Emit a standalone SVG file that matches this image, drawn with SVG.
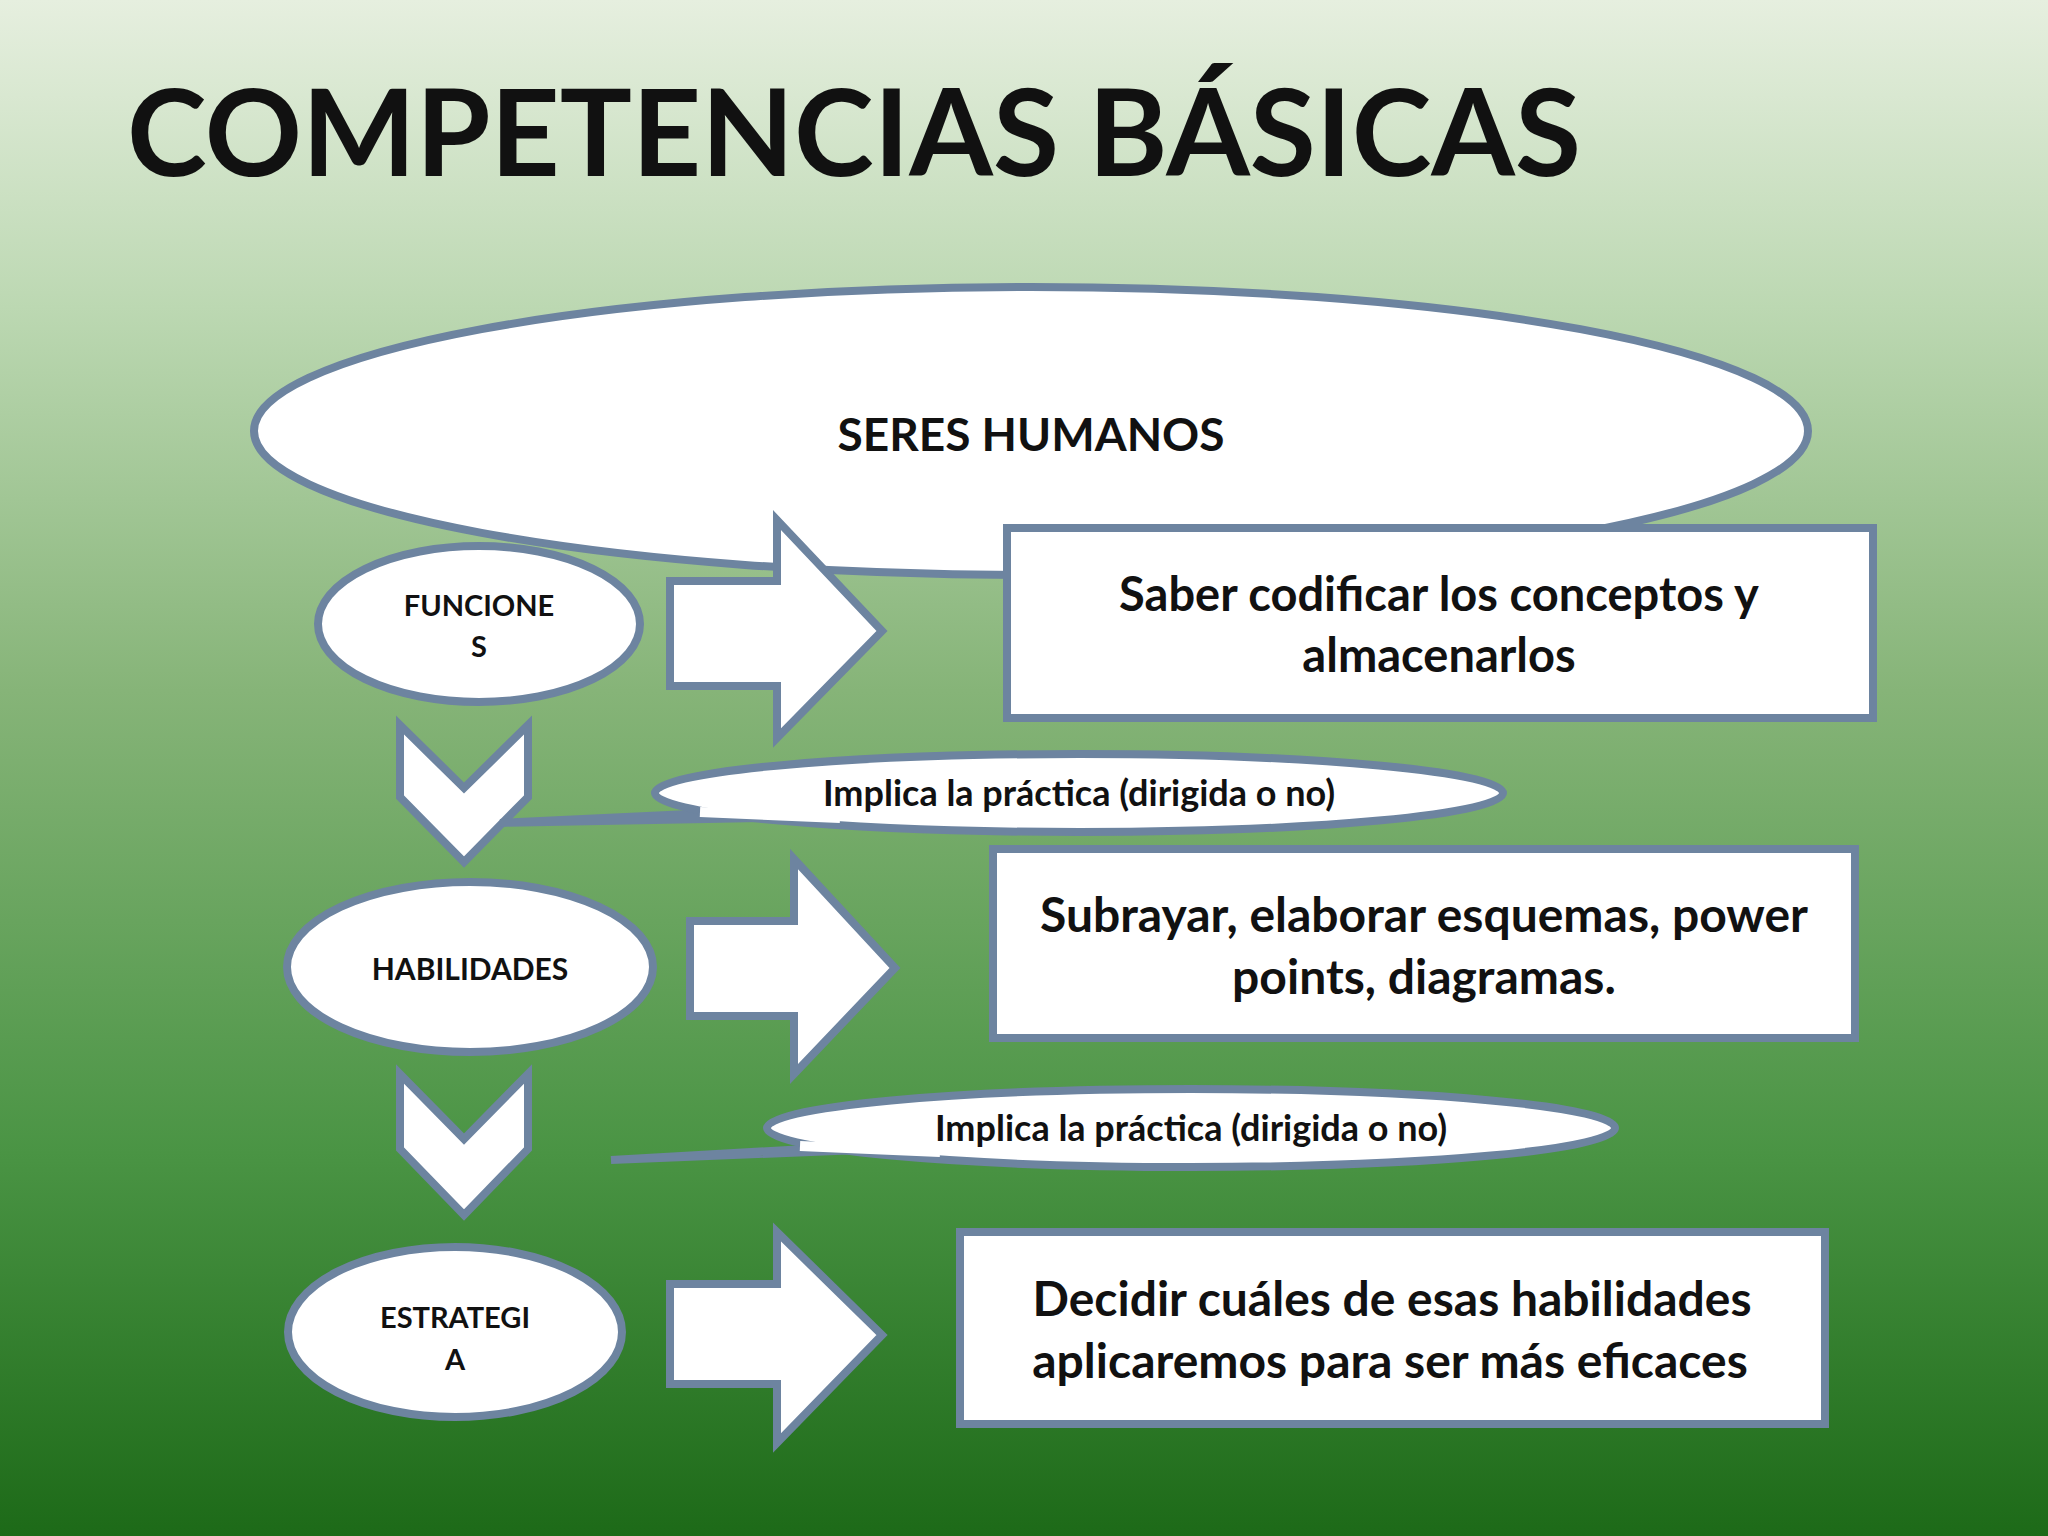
<svg xmlns="http://www.w3.org/2000/svg" width="2048" height="1536" viewBox="0 0 2048 1536">
<defs>
<linearGradient id="bg" x1="0" y1="0" x2="0" y2="1">
<stop offset="0" stop-color="#e6efdf"/>
<stop offset="0.2" stop-color="#bcd8b2"/>
<stop offset="0.45" stop-color="#86b478"/>
<stop offset="0.75" stop-color="#4a9444"/>
<stop offset="1" stop-color="#1d6a18"/>
</linearGradient>
<style>
.s{fill:#fff;stroke:#6d84a0;stroke-width:8;stroke-linejoin:miter}
.t{font-family:Lato,"Open Sans",sans-serif;font-weight:bold;fill:#111;text-anchor:middle}
</style>
</defs>
<rect width="2048" height="1536" fill="url(#bg)"/>
<text x="127" y="176" font-family="Lato,'Open Sans',sans-serif" font-weight="bold" font-size="120" fill="#111" textLength="1454" lengthAdjust="spacingAndGlyphs">COMPETENCIAS BÁSICAS</text>
<g id="seres"><ellipse class="s" cx="1031" cy="431" rx="777" ry="144"/><text class="t" x="1031" y="451" font-size="46">SERES HUMANOS</text></g>
<g id="connectors">
<path class="s" d="M670,581H777V520L882,631L777,738V686H670Z"/>
<path class="s" d="M690,921H794V859L895,968L794,1074V1016H690Z"/>
<path class="s" d="M670,1284H777V1232L882,1335L777,1443V1384H670Z"/>
<path class="s" d="M400,725L464,788L528,725V797L464,862L400,797Z"/>
<path class="s" d="M400,1074L464,1139L528,1074V1149L464,1215L400,1149Z"/>
</g>
<g id="box1"><rect class="s" x="1007" y="528" width="866" height="190"/><text class="t" x="1439" y="611" font-size="47">Saber codificar los conceptos  y</text><text class="t" x="1439" y="672" font-size="47">almacenarlos</text></g>
<g id="funciones"><ellipse class="s" cx="479" cy="624" rx="161" ry="78"/><text class="t" x="479" y="616" font-size="29">FUNCIONE</text><text class="t" x="479" y="657" font-size="29">S</text></g>
<g id="callout1"><path class="s" d="M760,818L500,823L820,808Z" stroke-width="6"/><ellipse class="s" cx="1079" cy="793" rx="424" ry="39"/><path d="M700,812L840,818" stroke="#fff" stroke-width="10"/><text class="t" x="1079" y="806" font-size="36">Implica la práctica (dirigida o no)</text></g>
<g id="habilidades"><ellipse class="s" cx="470" cy="967" rx="183" ry="85"/><text class="t" x="470" y="980" font-size="30">HABILIDADES</text></g>
<g id="box2"><rect class="s" x="993" y="849" width="862" height="189"/><text class="t" x="1424" y="932" font-size="48">Subrayar, elaborar esquemas, power</text><text class="t" x="1424" y="994" font-size="48">points, diagramas.</text></g>
<g id="callout2"><path class="s" d="M860,1150L611,1160L910,1143Z" stroke-width="6"/><ellipse class="s" cx="1191" cy="1128" rx="424" ry="39"/><path d="M800,1146L940,1152" stroke="#fff" stroke-width="10"/><text class="t" x="1191" y="1141" font-size="36">Implica la práctica (dirigida o no)</text></g>
<g id="estrategia"><ellipse class="s" cx="455" cy="1332" rx="167" ry="85"/><text class="t" x="455" y="1328" font-size="29">ESTRATEGI</text><text class="t" x="455" y="1370" font-size="29">A</text></g>
<g id="box3"><rect class="s" x="960" y="1232" width="865" height="192"/><text class="t" x="1392" y="1316" font-size="48">Decidir cuáles de esas habilidades</text><text class="t" x="1390" y="1378" font-size="48">aplicaremos para ser más eficaces</text></g>
</svg>
